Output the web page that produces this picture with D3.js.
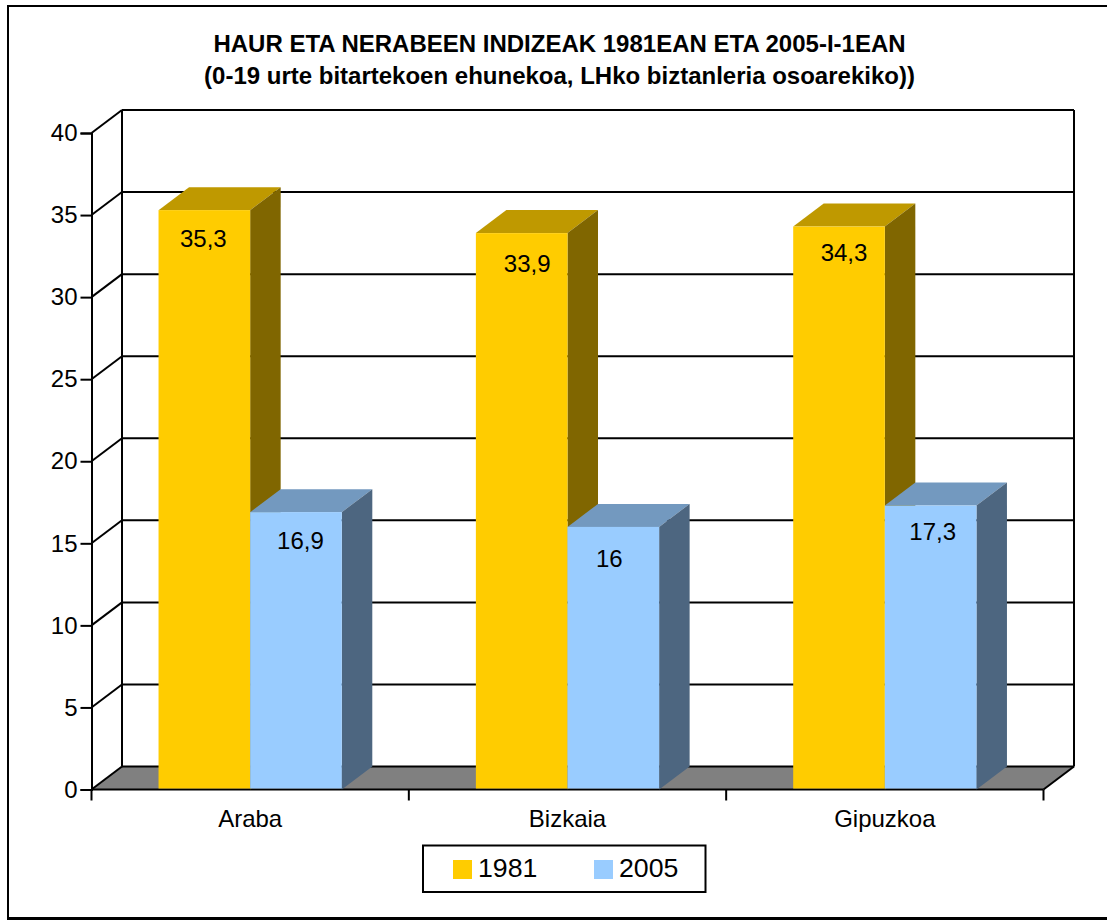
<!DOCTYPE html>
<html><head><meta charset="utf-8">
<script src="https://cdn.jsdelivr.net/npm/d3@7/dist/d3.min.js"></script>
<style>html,body{margin:0;padding:0;background:#fff;overflow:hidden}svg{display:block}text{font-family:"Liberation Sans",Arial,sans-serif;fill:#000}</style>
</head><body><svg id="c" width="1107" height="920"></svg>
<script>
const categories = ["Araba","Bizkaia","Gipuzkoa"];
const seriesNames = ["1981","2005"];
const values1981 = [35.3,33.9,34.3];
const values2005 = [16.9,16,17.3];
const valueLabels1981 = ["35,3","33,9","34,3"];
const valueLabels2005 = ["16,9","16","17,3"];
const yTicks = [0,5,10,15,20,25,30,35,40];
const titleLines = ["HAUR ETA NERABEEN INDIZEAK 1981EAN ETA 2005-I-1EAN","(0-19 urte bitartekoen ehunekoa, LHko biztanleria osoarekiko))"];

const colors = {"1981":{front:"#ffcc00",top:"#bf9900",side:"#806600"},"2005":{front:"#99ccff",top:"#7399bf",side:"#4d6680"}};
// small hand placement of the value labels relative to their bar front: [dx from centre, baseline below top]
const labelNudge1981 = [[-1,37],[5.5,39],[5,34]];
const labelNudge2005 = [[4.5,37],[-4,40],[2,34]];
const svg = d3.select("#c");
const x0=91.5,x1=1043.5,y0=789.5,y40=133,dx=30.5,dy=-23;
const y=d3.scaleLinear().domain([0,40]).range([y0,y40]);
const pi=0.4225;
const xb=d3.scaleBand().domain(categories).range([x0,x1]).paddingInner(pi).paddingOuter(pi/2);
const bw=xb.bandwidth()/2;
const poly=(pts,fill)=>svg.append("polygon").attr("points",pts.map(p=>p.join(",")).join(" ")).attr("fill",fill);
const line=(a,b,c,d,w=2)=>svg.append("line").attr("x1",a).attr("y1",b).attr("x2",c).attr("y2",d).attr("stroke","#000").attr("stroke-width",w);

// frame (right edge runs off the picture, bottom edge is cut by it)
svg.append("rect").attr("x",8).attr("y",6).attr("width",1130).attr("height",930).attr("fill","#fff").attr("stroke","#000").attr("stroke-width",2);
svg.append("rect").attr("x",7).attr("y",917).attr("width",1100).attr("height",3).attr("fill","#000");

// title
titleLines.forEach((t,i)=>svg.append("text").attr("x",559.5).attr("y",[52,84][i]).attr("text-anchor","middle").attr("font-size",24).attr("font-weight","bold").text(t));

// floor
poly([[x0,y0],[x1,y0],[x1+dx,y0+dy],[x0+dx,y0+dy]],"#808080");
// back wall gridlines + side wall
yTicks.forEach(t=>{
  const yy=y(t);
  line(x0,yy,x0+dx,yy+dy);
  line(x0+dx,yy+dy,x1+dx,yy+dy);
});
line(x0+dx,y(40)+dy,x0+dx,y0+dy,2);
line(x1+dx,y(40)+dy,x1+dx,y0+dy,2);
line(x1,y0,x1+dx,y0+dy);
// axes
const yAxis=d3.axisLeft(y).tickValues(yTicks).tickSize(11).tickPadding(3);
const gy=svg.append("g").attr("transform",`translate(${x0},0)`).call(yAxis);
gy.selectAll("path").attr("stroke","#000").attr("stroke-width",2);
gy.selectAll("line").attr("stroke","#000").attr("stroke-width",2);
gy.selectAll("text").attr("font-size",24).attr("font-family",'"Liberation Sans"');
const xTickPositions=d3.range(categories.length+1).map(i=>x0+i*xb.step());
line(x0,y0,x1,y0);
xTickPositions.forEach(p=>line(p,y0,p,y0+11));
categories.forEach(c=>svg.append("text").attr("x",xb(c)+xb.bandwidth()/2).attr("y",827).attr("text-anchor","middle").attr("font-size",24).text(c));

// bars
function bar(xl,v,col,label,nudge){
  const t=y(v),xr=xl+bw;
  poly([[xl,t],[xr,t],[xr+dx,t+dy],[xl+dx,t+dy]],col.top);
  poly([[xr,t],[xr+dx,t+dy],[xr+dx,y0+dy],[xr,y0]],col.side);
  svg.append("rect").attr("x",xl).attr("y",t).attr("width",bw).attr("height",y0-t-1).attr("fill",col.front);
  svg.append("text").attr("x",xl+bw/2+nudge[0]).attr("y",t+nudge[1]).attr("text-anchor","middle").attr("font-size",24).text(label);
}
categories.forEach((c,i)=>{
  const xl=xb(c);
  bar(xl,values1981[i],colors["1981"],valueLabels1981[i],labelNudge1981[i]);
  bar(xl+bw,values2005[i],colors["2005"],valueLabels2005[i],labelNudge2005[i]);
});

// legend
svg.append("rect").attr("x",423).attr("y",845.5).attr("width",282.5).attr("height",46.5).attr("fill","#fff").attr("stroke","#000").attr("stroke-width",2);
seriesNames.forEach((s,i)=>{
  const lx=[453,594][i];
  svg.append("rect").attr("x",lx).attr("y",860).attr("width",19).attr("height",19).attr("fill",colors[s].front);
  svg.append("text").attr("x",lx+25).attr("y",877).attr("font-size",26.7).text(s);
});
</script></body></html>
